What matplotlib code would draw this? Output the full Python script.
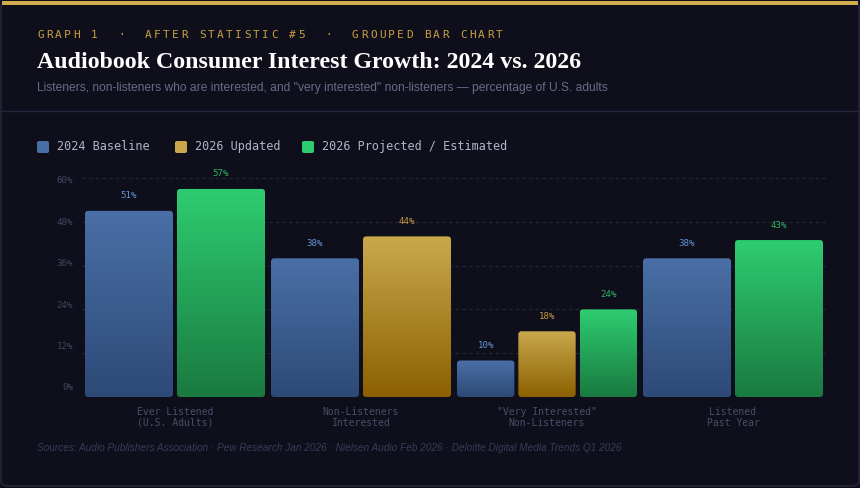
import numpy as np
import matplotlib
matplotlib.use("Agg")
import matplotlib.pyplot as plt
from matplotlib.patches import FancyBboxPatch, Rectangle
from matplotlib.colors import LinearSegmentedColormap

# data
categories = ["Ever Listened\n(U.S. Adults)", "Non-Listeners\nInterested",
              "\"Very Interested\"\nNon-Listeners", "Listened\nPast Year"]
series_names = ["2024 Baseline", "2026 Updated", "2026 Projected / Estimated"]
baseline_2024 = [51, 38, 10, 38]
updated_2026 = [None, 44, 18, None]
projected_2026 = [57, None, 24, 43]
yticks = [0, 12, 24, 36, 48, 60]

BG = "#0f0f1b"
MONO = "DejaVu Sans Mono"
top_col = ["#4a6fa6", "#c9a84c", "#2ecc71"]
bot_col = ["#2d4a77", "#8c6000", "#1a7a40"]
lab_col = ["#6393d6", "#c39a40", "#28b462"]

fig = plt.figure(figsize=(8.6, 4.88), dpi=100, facecolor=BG)
W, H = 860, 488
def fx(px): return px / W
def fy(py): return 1 - py / H

# card border and top stripe
fig.patches.append(FancyBboxPatch((fx(1), fy(486)), fx(858), 484 / H, boxstyle="round,pad=0,rounding_size=0.01",
                                  transform=fig.transFigure, facecolor=BG, edgecolor="#2a2a3c", lw=1, zorder=-5))
fig.patches.append(Rectangle((fx(2), fy(5)), fx(856), 3.5 / H, transform=fig.transFigure,
                             facecolor="#d0ac4e", edgecolor="none", zorder=-4))
fig.lines.append(plt.Line2D([fx(1), fx(859)], [fy(110.5), fy(110.5)], transform=fig.transFigure,
                            color="#23233a", lw=1, zorder=-4))

# header with letter spacing
header = "GRAPH 1  \u00b7  AFTER STATISTIC #5  \u00b7  GROUPED BAR CHART"
for i, ch in enumerate(header):
    fig.text(fx(37 + i * 9.0), fy(35), ch, color="#c9a040", fontsize=8, family=MONO,
             va="center", ha="left")
fig.text(fx(37), fy(63), "Audiobook Consumer Interest Growth: 2024 vs. 2026", color="#ffffff",
         fontsize=17.2, family="Liberation Serif", weight="bold", va="center")
fig.text(fx(37), fy(88), "Listeners, non-listeners who are interested, and \"very interested\" non-listeners \u2014 percentage of U.S. adults",
         color="#6a6a88", fontsize=8.65, family="Liberation Sans", va="center")
fig.text(fx(37), fy(448), "Sources: Audio Publishers Association \u00b7 Pew Research Jan 2026 \u00b7 Nielsen Audio Feb 2026 \u00b7 Deloitte Digital Media Trends Q1 2026",
         color="#3a3a55", fontsize=7.2, family="Liberation Sans", style="italic", va="center")

# legend
leg_x = [37, 175, 302]
for name, c, x in zip(series_names, top_col, leg_x):
    fig.patches.append(FancyBboxPatch((fx(x), fy(153)), fx(12), 12 / H, boxstyle="round,pad=0,rounding_size=0.003",
                                      transform=fig.transFigure, facecolor=c, edgecolor="none"))
    fig.text(fx(x + 20), fy(146.5), name, color="#b4b4c8", fontsize=8.5, family=MONO, va="center")

ax_l, ax_r, ax_b, ax_t = 82, 826, 397, 178
ax = fig.add_axes([fx(ax_l), fy(ax_b), fx(ax_r - ax_l), (ax_b - ax_t) / H])
ax.set_facecolor("none")

grp_w = 180 / 186
gap = 4 / 186
series = [baseline_2024, updated_2026, projected_2026]
px_per_x = (ax_r - ax_l) / 4.0
px_per_y = (ax_b - ax_t) / 60.0
r = 3 / px_per_x
aspect = (3 / px_per_y) / r

for ci in range(len(categories)):
    present = [si for si in range(3) if series[si][ci] is not None]
    n = len(present)
    bw = (grp_w - (n - 1) * gap) / n
    x0 = ci - grp_w / 2
    for k, si in enumerate(present):
        v = series[si][ci]
        left = x0 + k * (bw + gap)
        patch = FancyBboxPatch((left, 0), bw, v, boxstyle=f"round,pad=0,rounding_size={r}",
                               mutation_aspect=aspect, facecolor="none", edgecolor="none")
        ax.add_patch(patch)
        cmap = LinearSegmentedColormap.from_list("g", [bot_col[si], top_col[si]])
        grad = np.linspace(1, 0, 100).reshape(-1, 1)
        im = ax.imshow(grad, extent=[left, left + bw, 0, v], aspect="auto", cmap=cmap,
                       vmin=0, vmax=1, zorder=2)
        im.set_clip_path(patch)
        ax.text(left + bw / 2, v + 15 / px_per_y, f"{v}%", color=lab_col[si], fontsize=6.6,
                family=MONO, ha="center", va="center", zorder=3)

ax.set_xlim(-0.5, 3.5)
ax.set_ylim(0, 60)
ax.set_yticks(yticks)
ax.set_yticklabels([])
ax.set_xticks(range(len(categories)))
ax.set_xticklabels(categories)
# y labels sit on an evenly spaced, slightly compressed scale (as in the original)
for i, t in enumerate(yticks):
    py = 388 - 41.4 * i
    ax.text(-9 / (ax_r - ax_l), (ax_b - py) / (ax_b - ax_t), f"{t}%", transform=ax.transAxes,
            ha="right", va="center", family=MONO, fontsize=6.6, color="#44445e")
for lab in ax.get_xticklabels():
    lab.set_family(MONO); lab.set_fontsize(7); lab.set_color("#4c4c68"); lab.set_linespacing(1.15)
ax.tick_params(axis="y", length=0)
ax.tick_params(axis="x", length=0, pad=7)
ax.grid(axis="y", color="#26263a", ls=(0, (3, 3)), lw=0.8, zorder=0)
ax.set_axisbelow(True)
for s in ax.spines.values():
    s.set_visible(False)

fig.savefig("out.png", dpi=100, facecolor=BG)
